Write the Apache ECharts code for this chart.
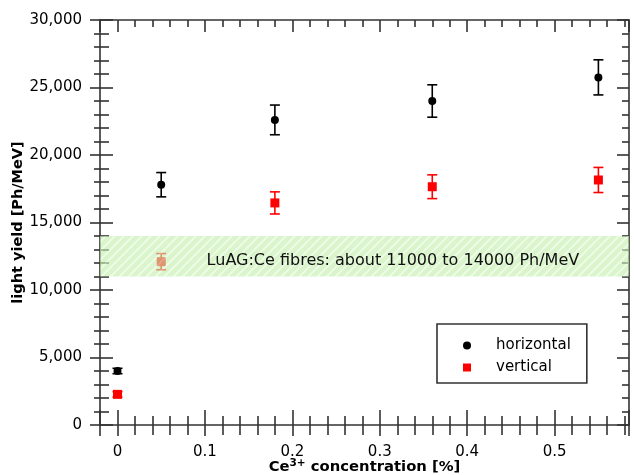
<!DOCTYPE html>
<html><head><meta charset="utf-8">
<script src="https://cdn.jsdelivr.net/npm/echarts@6/dist/echarts.min.js"></script>
<style>html,body{margin:0;padding:0;background:#fff}#c{width:634px;height:475px}</style>
</head><body><div id="c"></div>
<script>
// ---- data ----
const concentrations = [0, 0.05, 0.18, 0.36, 0.55];
const horizontalYield = [4000, 17800, 22600, 24000, 25750];
const horizontalErr = [200, 900, 1100, 1200, 1300];
const verticalYield = [2270, 12100, 16450, 17650, 18150];
const verticalErr = [200, 600, 820, 880, 930];
const fibreBand = [11000, 14000];
const fibreText = 'LuAG:Ce fibres: about 11000 to 14000 Ph/MeV';
const fibreTextPos = [0.315, 12500];
const xRange = [-0.02, 0.585];
const yRange = [0, 30000];
const yInterval = 5000;

const FONT = 'DejaVu Sans';
const AX = '#333';

// hatch pattern for the band
const pc = document.createElement('canvas');
pc.width = 9; pc.height = 9;
const g = pc.getContext('2d');
g.fillStyle = 'rgb(196,239,174)';
g.fillRect(0, 0, 9, 9);
g.strokeStyle = 'rgb(232,251,222)';
g.lineWidth = 1.6;
g.beginPath();
g.moveTo(-1, 10); g.lineTo(10, -1);
g.moveTo(-1, 1); g.lineTo(1, -1);
g.moveTo(8, 10); g.lineTo(10, 8);
g.stroke();

function errSeries(name, ys, errs, color, z) {
  return {
    type: 'custom', name: name, xAxisIndex: 0, yAxisIndex: 0, z: z, silent: true,
    data: concentrations.map((x, i) => [x, ys[i] - errs[i], ys[i] + errs[i]]),
    encode: { x: 0, y: [1, 2] },
    renderItem: function (params, api) {
      const lo = api.coord([api.value(0), api.value(1)]);
      const hi = api.coord([api.value(0), api.value(2)]);
      const h = 5;
      const st = { stroke: color, lineWidth: 1.6 };
      return { type: 'group', children: [
        { type: 'line', shape: { x1: lo[0], y1: lo[1], x2: hi[0], y2: hi[1] }, style: st },
        { type: 'line', shape: { x1: lo[0] - h, y1: lo[1], x2: lo[0] + h, y2: lo[1] }, style: st },
        { type: 'line', shape: { x1: hi[0] - h, y1: hi[1], x2: hi[0] + h, y2: hi[1] }, style: st }
      ]};
    }
  };
}

const xBase = { type: 'value', min: xRange[0], max: xRange[1], splitNumber: 6, gridIndex: 0,
  splitLine: { show: false } };
const yBase = { type: 'value', min: yRange[0], max: yRange[1], interval: yInterval, gridIndex: 0,
  splitLine: { show: false } };
const tickStyle = { color: AX, width: 1.6 };

const option = {
  animation: false,
  backgroundColor: '#fff',
  grid: { left: 100, right: 5, top: 20, bottom: 50, containLabel: false, outerBoundsMode: 'none' },
  xAxis: [
    Object.assign({}, xBase, {
      position: 'bottom',
      axisLine: { show: true, onZero: false, lineStyle: tickStyle },
      axisTick: { show: true, inside: true, length: 15, lineStyle: tickStyle },
      minorTick: { show: true, splitNumber: 5, length: 9, lineStyle: tickStyle },
      axisLabel: { show: true, margin: 20, fontSize: 15, color: '#000', fontFamily: FONT,
        showMinLabel: false, showMaxLabel: false },
      name: '{a|Ce}{s|3+}{a| concentration [%]}', nameLocation: 'middle', nameGap: 33,
      nameMoveOverlap: false,
      nameTextStyle: { rich: {
        a: { fontSize: 14.8, fontWeight: 'bold', color: '#000', fontFamily: FONT, verticalAlign: 'bottom' },
        s: { fontSize: 10.5, fontWeight: 'bold', color: '#000', fontFamily: FONT, verticalAlign: 'top', padding: [0, 0, 6, 0] }
      } }
    }),
    Object.assign({}, xBase, {
      position: 'bottom',
      axisLine: { show: false, onZero: false },
      axisTick: { show: true, inside: false, length: 11, lineStyle: tickStyle },
      minorTick: { show: true, splitNumber: 5, length: 10, lineStyle: tickStyle },
      axisLabel: { show: false }
    }),
    Object.assign({}, xBase, {
      position: 'top',
      axisLine: { show: true, onZero: false, lineStyle: tickStyle },
      axisTick: { show: true, inside: true, length: 12, lineStyle: tickStyle },
      minorTick: { show: true, splitNumber: 5, length: 7, lineStyle: tickStyle },
      axisLabel: { show: false }
    })
  ],
  yAxis: [
    Object.assign({}, yBase, {
      position: 'left',
      axisLine: { show: true, onZero: false, lineStyle: tickStyle },
      axisTick: { show: true, inside: true, length: 13, lineStyle: tickStyle },
      minorTick: { show: true, splitNumber: 5, length: 9, lineStyle: tickStyle },
      axisLabel: { show: true, margin: 18, fontSize: 15, color: '#000', fontFamily: FONT,
        formatter: v => v.toLocaleString('en-US') },
      name: 'light yield [Ph/MeV]', nameLocation: 'middle', nameGap: 74,
      nameMoveOverlap: false,
      nameTextStyle: { fontSize: 14.5, fontWeight: 'bold', color: '#000', fontFamily: FONT }
    }),
    Object.assign({}, yBase, {
      position: 'left',
      axisLine: { show: false, onZero: false },
      axisTick: { show: true, inside: false, length: 10, lineStyle: tickStyle },
      minorTick: { show: true, splitNumber: 5, length: 6, lineStyle: tickStyle },
      axisLabel: { show: false }
    }),
    Object.assign({}, yBase, {
      position: 'right',
      axisLine: { show: true, onZero: false, lineStyle: tickStyle },
      axisTick: { show: true, inside: true, length: 12, lineStyle: tickStyle },
      minorTick: { show: true, splitNumber: 5, length: 7, lineStyle: tickStyle },
      axisLabel: { show: false }
    })
  ],
  legend: {
    left: 437, top: 324, orient: 'vertical', padding: [14, 16, 8, 26], itemGap: 7,
    itemWidth: 48, itemHeight: 8,
    borderColor: AX, borderWidth: 1.6, backgroundColor: '#fff',
    textStyle: { fontSize: 15, color: '#000', fontFamily: FONT },
    data: [{ name: 'horizontal', icon: 'circle' }, { name: 'vertical', icon: 'path://M0,0H10V10H0Z' }]
  },
  series: [
    errSeries('horizontal error', horizontalYield, horizontalErr, '#000', 2),
    errSeries('vertical error', verticalYield, verticalErr, '#ff0000', 2),
    { type: 'scatter', name: 'horizontal', xAxisIndex: 0, yAxisIndex: 0, z: 2,
      symbol: 'circle', symbolSize: 8, itemStyle: { color: '#000', opacity: 1 },
      data: concentrations.map((x, i) => [x, horizontalYield[i]]) },
    { type: 'scatter', name: 'vertical', xAxisIndex: 0, yAxisIndex: 0, z: 2,
      symbol: 'rect', symbolSize: 9, itemStyle: { color: '#ff0000', opacity: 1 },
      data: concentrations.map((x, i) => [x, verticalYield[i]]) },
    { type: 'custom', name: 'band', xAxisIndex: 0, yAxisIndex: 0, z: 3, silent: true,
      data: [[xRange[0], fibreBand[0], xRange[1], fibreBand[1]]],
      renderItem: function (params, api) {
        const p0 = api.coord([api.value(0), api.value(3)]);
        const p1 = api.coord([api.value(2), api.value(1)]);
        const tp = api.coord(fibreTextPos);
        return { type: 'group', children: [
          { type: 'rect', shape: { x: p0[0], y: p0[1], width: p1[0] - p0[0], height: p1[1] - p0[1] },
            style: { fill: { image: pc, repeat: 'repeat' }, opacity: 0.63 } },
          { type: 'text', x: tp[0], y: tp[1] + 5, style: { text: fibreText, fontSize: 16, fontFamily: FONT,
            fill: '#111', align: 'center', verticalAlign: 'middle' } }
        ]};
      }
    }
  ]
};
const chart = echarts.init(document.getElementById('c'), null, { renderer: 'canvas' });
chart.setOption(option);
</script>
</body></html>
